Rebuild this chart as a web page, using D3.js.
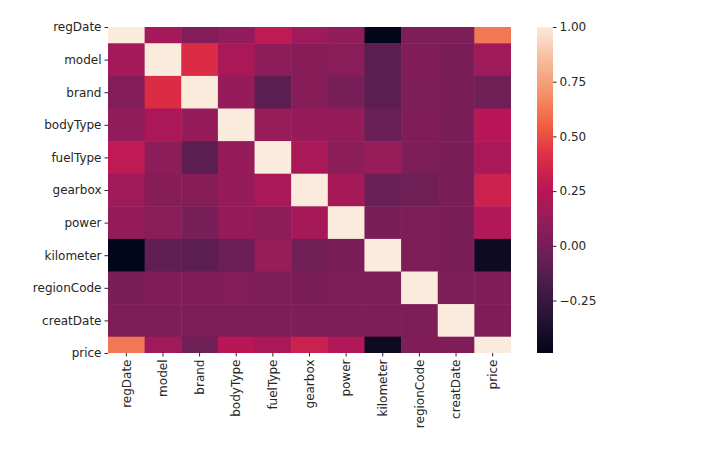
<!DOCTYPE html>
<html><head><meta charset="utf-8">
<script src="https://cdn.jsdelivr.net/npm/d3@7"></script>
<style>body{margin:0;background:#fff}text{font-family:"DejaVu Sans",sans-serif;font-size:12px;fill:#262626}</style>
</head><body><svg id="c" width="705" height="463"></svg>
<script>
const labels = ["regDate","model","brand","bodyType","fuelType","gearbox","power","kilometer","regionCode","creatDate","price"];
const corr = [
  [1, 0.17, 0.05, 0.1, 0.28, 0.15, 0.1, -0.49, 0.03, 0.03, 0.62],
  [0.17, 1, 0.4, 0.2, 0.08, 0.06, 0.07, -0.1, 0.04, 0.02, 0.15],
  [0.05, 0.4, 1, 0.12, -0.1, 0.06, 0.01, -0.1, 0.03, 0.02, -0.03],
  [0.1, 0.2, 0.12, 1, 0.13, 0.12, 0.12, -0.05, 0.04, 0.02, 0.25],
  [0.28, 0.08, -0.1, 0.12, 1, 0.2, 0.08, 0.13, 0.03, 0.02, 0.2],
  [0.15, 0.06, 0.06, 0.12, 0.2, 1, 0.18, -0.05, -0.03, 0.02, 0.33],
  [0.12, 0.07, 0.01, 0.12, 0.08, 0.18, 1, 0.02, 0.03, 0.02, 0.23],
  [-0.49, -0.08, -0.1, -0.04, 0.13, -0.02, 0.02, 1, 0.03, 0.02, -0.44],
  [0.02, 0.04, 0.04, 0.05, 0.03, 0.02, 0.03, 0.03, 1, 0.03, 0.04],
  [0.03, 0.03, 0.03, 0.03, 0.03, 0.03, 0.03, 0.03, 0.03, 1, 0.04],
  [0.62, 0.15, -0.03, 0.25, 0.2, 0.33, 0.23, -0.44, 0.04, 0.04, 1]
];
const cbTicks = [1, 0.75, 0.5, 0.25, 0, -0.25];
const rocket = ["#03051A","#221331","#451C47","#6A1F56","#921C5B","#B91657","#DD2C45","#F06043","#F5936A","#F6BC9A","#FAEBDD"];

const vmin = -0.49, vmax = 1;
const color = d3.scaleLinear().domain(d3.range(11).map(i => vmin + (vmax - vmin) * i / 10)).range(rocket);

const svg = d3.select("#c");
const x0 = 108, x1 = 511, y0 = 27, y1 = 353;
const x = d3.scaleBand().domain(labels).range([x0, x1]);
// rows are centred on ticks; first and last rows are half clipped
const step = (y1 - y0) / (labels.length - 1);
const y = d3.scaleBand().domain(labels).range([y0 - step / 2, y1 + step / 2]);

svg.append("clipPath").attr("id", "clip").append("rect")
  .attr("x", x0).attr("y", y0).attr("width", x1 - x0).attr("height", y1 - y0);

const cells = [];
corr.forEach((row, i) => row.forEach((v, j) => cells.push({r: labels[i], c: labels[j], v})));
svg.append("g").attr("clip-path", "url(#clip)").selectAll("rect").data(cells).join("rect")
  .attr("x", d => x(d.c)).attr("y", d => y(d.r))
  .attr("width", x.bandwidth() + 0.5).attr("height", y.bandwidth() + 0.5)
  .attr("fill", d => color(d.v));

const yAxis = svg.append("g").attr("transform", `translate(${x0},0)`)
  .call(d3.axisLeft(d3.scalePoint().domain(labels).range([y0, y1])).tickSize(3.5).tickPadding(3));
yAxis.select(".domain").remove();
const xAxis = svg.append("g").attr("transform", `translate(0,${y1})`)
  .call(d3.axisBottom(x).tickSize(3.5).tickPadding(3));
xAxis.select(".domain").remove();
xAxis.selectAll("text").attr("transform", "rotate(-90)").attr("text-anchor", "end")
  .attr("x", -6.5).attr("y", 0).attr("dy", "0.35em");
svg.selectAll(".tick line").attr("stroke", "#262626");
svg.selectAll(".tick text").style("font-size", "12px").style("font-family", "DejaVu Sans").attr("fill", "#262626");

// colorbar
const cbx = 537, cbw = 16;
const cy = d3.scaleLinear().domain([vmin, vmax]).range([y1, y0]);
const grad = svg.append("defs").append("linearGradient").attr("id", "g")
  .attr("x1", 0).attr("y1", 1).attr("x2", 0).attr("y2", 0);
rocket.forEach((c, i) => grad.append("stop").attr("offset", i / 10).attr("stop-color", c));
svg.append("rect").attr("x", cbx).attr("y", y0).attr("width", cbw).attr("height", y1 - y0).attr("fill", "url(#g)");
const cb = svg.append("g").attr("transform", `translate(${cbx + cbw},0)`)
  .call(d3.axisRight(cy).tickValues(cbTicks).tickSize(3.5).tickPadding(3));
cb.select(".domain").remove();
cb.selectAll("text").text(d => (d < 0 ? "\u2212" : "") + Math.abs(d).toFixed(2));
cb.selectAll(".tick line").attr("stroke", "#262626");
cb.selectAll(".tick text").style("font-size", "12px").style("font-family", "DejaVu Sans");
</script></body></html>
